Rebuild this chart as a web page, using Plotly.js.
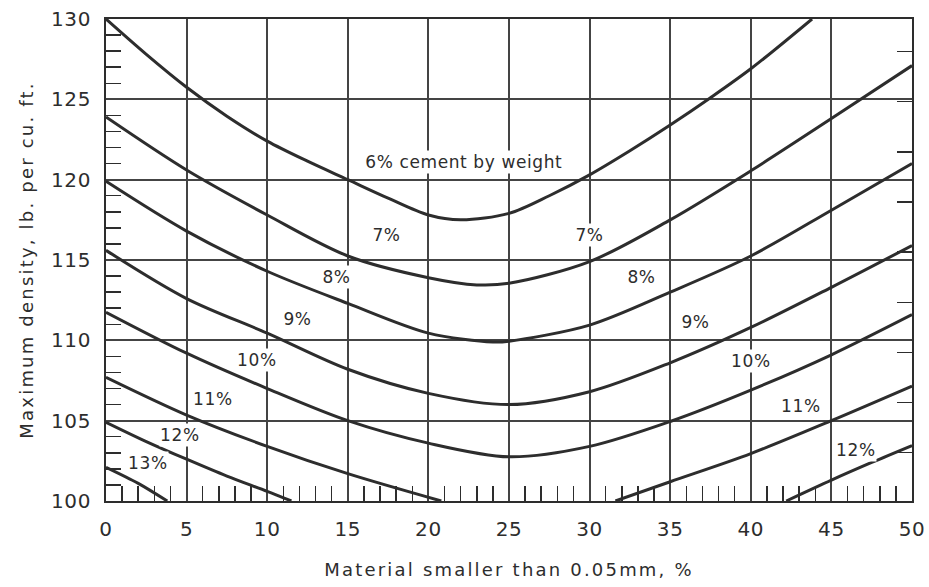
<!DOCTYPE html>
<html><head><meta charset="utf-8">
<script src="https://cdn.plot.ly/plotly-3.0.1.min.js"></script>
<style>
html,body{margin:0;padding:0;background:#fff}
#chart{width:929px;height:587px}
#chart .xtitle, #chart .ytitle{letter-spacing:2.2px}
#chart .annotation-text{letter-spacing:0.6px}
#chart .xtick text, #chart .ytick text{letter-spacing:0.6px}
</style>
</head><body><div id="chart"></div>
<script>
// ---- data ----
const c6_x  = [0,2.5,5,7.5,10,12.5,15,17.5,20,22,25,27.5,30,32.5,35,37.5,40,43.8];
const c6_y  = [130,127.8,125.75,123.95,122.4,121.15,120,118.85,117.8,117.5,117.9,119,120.3,121.8,123.4,125.1,126.9,130];
const c7_x  = [0,5,10,15,20,23,25,30,35,40,45,50];
const c7_y  = [123.9,120.6,117.8,115.25,113.9,113.45,113.55,114.9,117.5,120.55,123.8,127.1];
const c8_x  = [0,5,10,15,20,24,25,30,35,40,45,50];
const c8_y  = [119.9,116.8,114.3,112.3,110.45,109.9,109.95,110.95,113.0,115.25,118.1,121.0];
const c9_x  = [0,5,10,15,20,25,30,35,40,45,50];
const c9_y  = [115.6,112.6,110.45,108.2,106.7,106.0,106.8,108.6,110.8,113.3,115.9];
const c10_x = [0,5,10,15,20,25,30,35,40,45,50];
const c10_y = [111.75,109.2,107.0,105.0,103.6,102.75,103.4,104.95,106.9,109.1,111.6];
const c11_x = [0,5,10,15,20.8,null,31.6,35,40,45,50];
const c11_y = [107.7,105.35,103.4,101.7,100,null,100,101.2,102.95,105.0,107.15];
const c12_x = [0,2.5,5,7.5,10,11.5,null,42.2,45,47.5,50];
const c12_y = [104.9,103.7,102.6,101.55,100.6,100,null,100,101.3,102.4,103.45];
const c13_x = [0,2,3.8];
const c13_y = [102.1,101.1,100];

const label_text = ["6% cement by weight","7%","7%","8%","8%","9%","9%","10%","10%","11%","11%","12%","12%","13%"];
const label_x    = [22.2,17.4,30.0,14.3,33.25,11.85,36.55,9.35,40.0,6.65,43.1,4.6,46.5,2.6];
const label_y    = [121.1,116.55,116.55,113.95,113.95,111.35,111.15,108.8,108.7,106.35,105.9,104.1,103.2,102.35];

const x_range = [0,50];
const y_range = [100,130];
const kg_per_pcf = 16.0185;       // right-hand scale in kg/m3
const right_dtick = 50;

// ---- styles ----
const INK = '#2d2d2d';
const GRID = '#444444';
const FONT = 'DejaVu Sans, Liberation Sans, sans-serif';

const curves = [[c6_x,c6_y],[c7_x,c7_y],[c8_x,c8_y],[c9_x,c9_y],[c10_x,c10_y],[c11_x,c11_y],[c12_x,c12_y],[c13_x,c13_y]];
const traces = curves.map(([x,y]) => ({
  type:'scatter', mode:'lines', x:x, y:y,
  line:{color:INK, width:3, shape:'spline', smoothing:0.9},
  connectgaps:false, hoverinfo:'skip', showlegend:false
}));
traces.push({type:'scatter', x:[], y:[], yaxis:'y2', hoverinfo:'skip', showlegend:false});

const annotations = label_text.map((t,i) => ({
  x:label_x[i], y:label_y[i], xref:'x', yref:'y', text:t, showarrow:false,
  font:{family:FONT, size:17, color:INK},
  bgcolor:'#ffffff', borderpad:1
}));

const layout = {
  width:929, height:587,
  margin:{l:106, r:17.3, t:19, b:86},
  paper_bgcolor:'#ffffff', plot_bgcolor:'#ffffff',
  showlegend:false,
  font:{family:FONT, color:INK},
  xaxis:{
    range:x_range, dtick:5, tick0:0,
    showgrid:true, gridcolor:GRID, gridwidth:2, zeroline:false,
    showline:true, mirror:true, linecolor:INK, linewidth:2,
    ticks:'', ticklabelstandoff:9,
    minor:{dtick:1, ticks:'inside', ticklen:15, tickwidth:1.5, tickcolor:INK, showgrid:false},
    tickfont:{family:FONT, size:20, color:INK},
    title:{text:'Material smaller than 0.05mm, %', font:{family:FONT, size:18, color:INK}, standoff:23},
    automargin:false, fixedrange:true
  },
  yaxis:{
    range:y_range, dtick:5, tick0:0,
    showgrid:true, gridcolor:GRID, gridwidth:2, zeroline:false,
    showline:true, mirror:true, linecolor:INK, linewidth:2,
    ticks:'', ticklabelstandoff:9,
    minor:{dtick:1, ticks:'inside', ticklen:15, tickwidth:1.5, tickcolor:INK, showgrid:false},
    tickfont:{family:FONT, size:20, color:INK},
    title:{text:'Maximum density, lb. per cu. ft.', font:{family:FONT, size:18, color:INK}, standoff:15},
    automargin:false, fixedrange:true
  },
  yaxis2:{
    overlaying:'y', side:'right', anchor:'x',
    range:[y_range[0]*kg_per_pcf, y_range[1]*kg_per_pcf],
    tick0:0, dtick:right_dtick,
    ticks:'inside', ticklen:15, tickwidth:1.5, tickcolor:INK,
    showticklabels:false, showgrid:false, zeroline:false, showline:false,
    automargin:false, fixedrange:true
  },
  annotations:annotations
};

Plotly.newPlot('chart', traces, layout, {staticPlot:true, displayModeBar:false});
</script>
</body></html>
